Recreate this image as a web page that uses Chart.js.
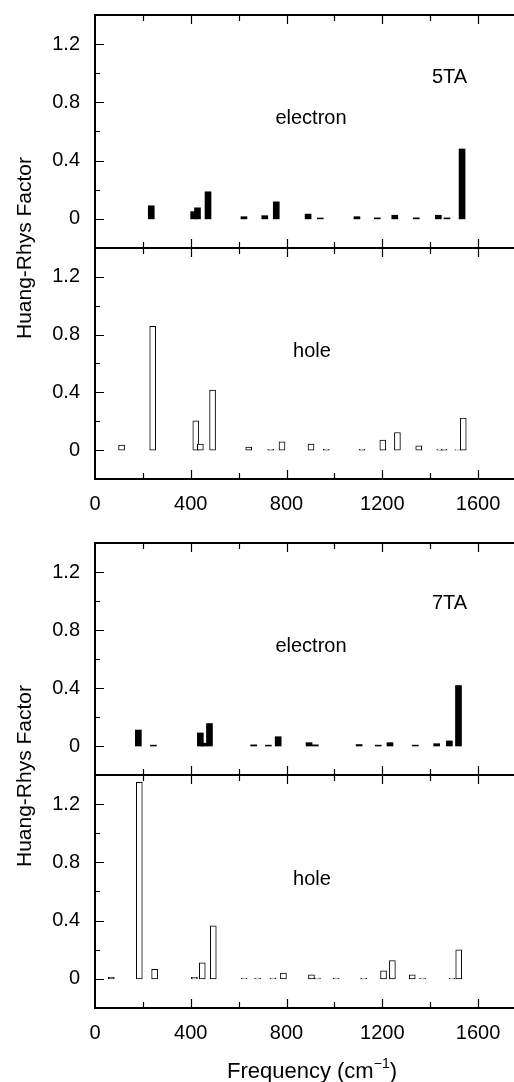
<!DOCTYPE html>
<html>
<head>
<meta charset="utf-8">
<title>Huang-Rhys factors, 5TA and 7TA</title>
<script src="https://cdn.jsdelivr.net/npm/chart.js@4.4.1/dist/chart.umd.min.js"></script>
<style>
  html, body { margin: 0; padding: 0; background: #fff; overflow: hidden; }
  #page { position: relative; width: 514px; height: 1082px; overflow: hidden; }
  canvas { position: absolute; left: 0; }
  .note { position: absolute; font-family: 'Liberation Sans', Arial, sans-serif; font-size: 20px; line-height: 1; white-space: nowrap; color: #000; }
  .ytitle { font-size: 21px; transform: translate(-50%, -50%) rotate(-90deg); }
  .xtitle { font-size: 22px; transform: translateX(-50%); }
  .xtitle sup { font-size: 14px; position: relative; top: -2px; }
</style>
</head>
<body>
<div id="page">
  <canvas id="e5" width="526" height="248" style="top:0px"></canvas>
  <canvas id="h5" width="526" height="290" style="top:248px"></canvas>
  <canvas id="e7" width="526" height="245" style="top:530px"></canvas>
  <canvas id="h7" width="526" height="290" style="top:775px"></canvas>

  <div class="note" style="left:432px; top:66px">5TA</div>
  <div class="note" style="left:311px; top:107px; transform:translateX(-50%)">electron</div>
  <div class="note" style="left:312px; top:340px; transform:translateX(-50%)">hole</div>
  <div class="note" style="left:432px; top:592px">7TA</div>
  <div class="note" style="left:311px; top:635px; transform:translateX(-50%)">electron</div>
  <div class="note" style="left:312px; top:868px; transform:translateX(-50%)">hole</div>

  <div class="note ytitle" style="left:23px; top:248px">Huang-Rhys Factor</div>
  <div class="note ytitle" style="left:23px; top:776px">Huang-Rhys Factor</div>
  <div class="note xtitle" style="left:312px; top:1058px">Frequency (cm<sup>&minus;1</sup>)</div>
</div>

<script>
// frequencies (cm-1) and Huang-Rhys factors
const freq5Electron = [235, 412, 428, 472, 622, 709, 757, 890, 941, 1094, 1179, 1252, 1342, 1434, 1470, 1533];
const hr5Electron   = [0.09, 0.05, 0.076, 0.186, 0.015, 0.022, 0.117, 0.033, 0.006, 0.015, 0.007, 0.025, 0.007, 0.025, 0.007, 0.48];

const freq5Hole = [111, 241, 421, 440, 491, 642, 734, 781, 902, 966, 1115, 1202, 1263, 1352, 1440, 1458, 1515, 1538];
const hr5Hole   = [0.035, 0.857, 0.203, 0.042, 0.416, 0.021, 0.005, 0.058, 0.042, 0.005, 0.005, 0.069, 0.122, 0.03, 0.008, 0.005, 0.004, 0.222];

const freq7Electron = [181, 244, 440, 455, 478, 663, 724, 765, 894, 920, 1103, 1183, 1232, 1338, 1427, 1480, 1518];
const hr7Electron   = [0.11, 0.006, 0.09, 0.02, 0.155, 0.008, 0.006, 0.064, 0.023, 0.008, 0.01, 0.006, 0.023, 0.006, 0.016, 0.035, 0.417];

const freq7Hole = [68, 185, 249, 415, 448, 494, 623, 679, 743, 787, 904, 929, 1007, 1122, 1205, 1242, 1325, 1368, 1491, 1519];
const hr7Hole   = [0.012, 1.35, 0.066, 0.01, 0.11, 0.364, 0.005, 0.005, 0.005, 0.039, 0.027, 0.005, 0.005, 0.005, 0.055, 0.126, 0.027, 0.005, 0.005, 0.2];

// axis ranges and labelled ticks
const xRange = [0, 1800];
const yRange = [-0.2, 1.4];
const xTickLabels = [0, 400, 800, 1200, 1600];
const yTickLabels = [0, 0.4, 0.8, 1.2];

Chart.defaults.font.family = "'Liberation Sans', Arial, sans-serif";
Chart.defaults.color = '#000';

const near = (a, b) => Math.abs(a - b) < 1e-6;

// inward ticks on all sides plus the box frame
const frameTicks = {
    id: 'frameTicks',
    afterDatasetsDraw(chart) {
        const { ctx, chartArea: a, scales: { x, y } } = chart;
        ctx.save();
        ctx.strokeStyle = '#000';
        ctx.lineWidth = 1.2;
        ctx.beginPath();
        for (let v = xRange[0] + 200; v < xRange[1]; v += 200) {
            const px = Math.round(x.getPixelForValue(v)) + 0.5;
            const len = v % 400 === 0 ? 9 : 6;
            ctx.moveTo(px, a.top); ctx.lineTo(px, a.top + len);
            ctx.moveTo(px, a.bottom); ctx.lineTo(px, a.bottom - len);
        }
        for (let k = 1; k < 8; k++) {
            const v = yRange[0] + k * 0.2;
            const py = Math.round(y.getPixelForValue(v)) + 0.5;
            const len = yTickLabels.some(t => near(t, v)) ? 9 : 5;
            ctx.moveTo(a.left, py); ctx.lineTo(a.left + len, py);
            ctx.moveTo(a.right, py); ctx.lineTo(a.right - len, py);
        }
        ctx.stroke();
        ctx.lineWidth = 2;
        ctx.strokeRect(a.left, a.top, a.right - a.left, a.bottom - a.top);
        ctx.restore();
    }
};

function makePanel(id, freqs, values, filled, padTop, xHeight) {
    const showX = xHeight > 0;
    return new Chart(document.getElementById(id), {
        type: 'bar',
        data: {
            datasets: [{
                data: freqs.map((f, i) => ({ x: f, y: values[i] })),
                backgroundColor: filled ? '#000' : '#fff',
                borderColor: '#000',
                borderWidth: filled ? 0 : 1,
                borderSkipped: false,
                barThickness: 6
            }]
        },
        options: {
            responsive: false,
            animation: false,
            layout: { padding: { top: padTop, left: 0, right: 0, bottom: 0 } },
            plugins: { legend: { display: false }, tooltip: { enabled: false } },
            scales: {
                x: {
                    type: 'linear',
                    min: xRange[0],
                    max: xRange[1],
                    offset: false,
                    display: showX,
                    grid: { display: false, drawTicks: false },
                    border: { display: false },
                    afterFit: s => { s.height = xHeight; s.paddingLeft = 0; s.paddingRight = 0; },
                    ticks: {
                        stepSize: 200,
                        autoSkip: false,
                        maxRotation: 0,
                        padding: 13,
                        font: { size: 20 },
                        callback: v => xTickLabels.includes(v) ? String(v) : ''
                    }
                },
                y: {
                    min: yRange[0],
                    max: yRange[1],
                    grid: { display: false, drawTicks: false },
                    border: { display: false },
                    afterFit: s => { s.width = 95; s.paddingTop = 0; s.paddingBottom = 0; },
                    ticks: {
                        stepSize: 0.2,
                        autoSkip: false,
                        padding: 15,
                        font: { size: 20 },
                        callback: v => {
                            const t = yTickLabels.find(t => near(t, v));
                            return t === undefined ? '' : (t === 0 ? '0' : t.toFixed(1));
                        }
                    }
                }
            }
        },
        plugins: [frameTicks]
    });
}

makePanel('e5', freq5Electron, hr5Electron, true, 15, 0);
makePanel('h5', freq5Hole, hr5Hole, false, 0, 59);
makePanel('e7', freq7Electron, hr7Electron, true, 13, 0);
makePanel('h7', freq7Hole, hr7Hole, false, 0, 57);
</script>
</body>
</html>
